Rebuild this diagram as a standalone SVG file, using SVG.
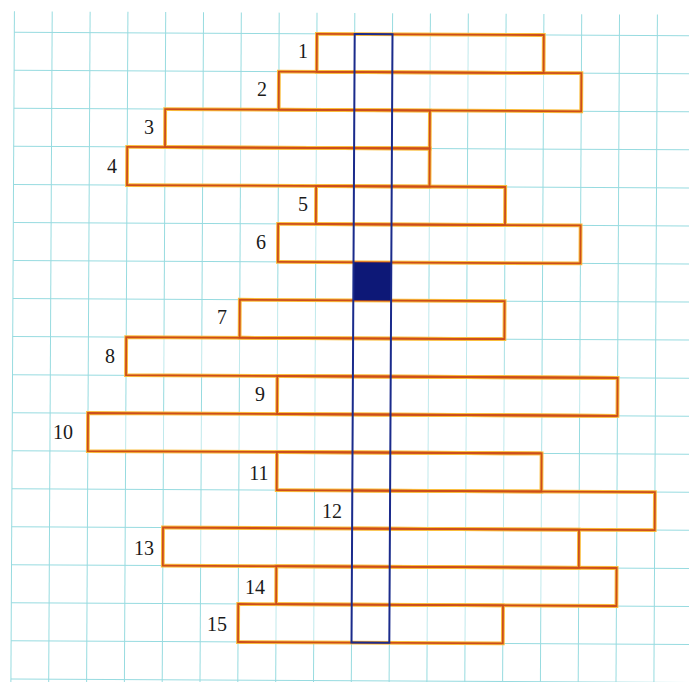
<svg xmlns="http://www.w3.org/2000/svg" width="689" height="682" viewBox="0 0 689 682">
<style>
.grid line{stroke:#97dbe0;stroke-width:1}
.band{fill:#ffffff;fill-opacity:0.4;stroke:none}
.halo{fill:none;stroke:#f9bd3c;stroke-width:3.8;stroke-linejoin:miter}
.edge{fill:none;stroke:#cd4d1b;stroke-width:1.8;stroke-linejoin:miter}
.col{fill:none;stroke:#1b2b8c;stroke-width:2}
.black{fill:#0d1877}
.lbl{font-family:"Liberation Serif","Times New Roman",serif;font-size:20px;fill:#1a1a1a;text-anchor:middle}
</style>
<rect width="689" height="682" fill="#ffffff"/>
<g transform="rotate(0.3 350 340)">
<g class="grid" id="grid">
<line x1="12.7" y1="13" x2="12.7" y2="690"/>
<line x1="50.5" y1="13" x2="50.5" y2="690"/>
<line x1="88.4" y1="13" x2="88.4" y2="690"/>
<line x1="126.2" y1="13" x2="126.2" y2="690"/>
<line x1="164.0" y1="13" x2="164.0" y2="690"/>
<line x1="201.8" y1="13" x2="201.8" y2="690"/>
<line x1="239.6" y1="13" x2="239.6" y2="690"/>
<line x1="277.5" y1="13" x2="277.5" y2="690"/>
<line x1="315.3" y1="13" x2="315.3" y2="690"/>
<line x1="353.1" y1="13" x2="353.1" y2="690"/>
<line x1="390.9" y1="13" x2="390.9" y2="690"/>
<line x1="428.7" y1="13" x2="428.7" y2="690"/>
<line x1="466.6" y1="13" x2="466.6" y2="690"/>
<line x1="504.4" y1="13" x2="504.4" y2="690"/>
<line x1="542.2" y1="13" x2="542.2" y2="690"/>
<line x1="580.0" y1="13" x2="580.0" y2="690"/>
<line x1="617.8" y1="13" x2="617.8" y2="690"/>
<line x1="655.7" y1="13" x2="655.7" y2="690"/>
<line x1="12.7" y1="34.0" x2="700" y2="34.0"/>
<line x1="12.7" y1="72.0" x2="700" y2="72.0"/>
<line x1="12.7" y1="110.1" x2="700" y2="110.1"/>
<line x1="12.7" y1="148.1" x2="700" y2="148.1"/>
<line x1="12.7" y1="186.2" x2="700" y2="186.2"/>
<line x1="12.7" y1="224.2" x2="700" y2="224.2"/>
<line x1="12.7" y1="262.2" x2="700" y2="262.2"/>
<line x1="12.7" y1="300.3" x2="700" y2="300.3"/>
<line x1="12.7" y1="338.3" x2="700" y2="338.3"/>
<line x1="12.7" y1="376.4" x2="700" y2="376.4"/>
<line x1="12.7" y1="414.4" x2="700" y2="414.4"/>
<line x1="12.7" y1="452.4" x2="700" y2="452.4"/>
<line x1="12.7" y1="490.5" x2="700" y2="490.5"/>
<line x1="12.7" y1="528.5" x2="700" y2="528.5"/>
<line x1="12.7" y1="566.6" x2="700" y2="566.6"/>
<line x1="12.7" y1="604.6" x2="700" y2="604.6"/>
<line x1="12.7" y1="642.6" x2="700" y2="642.6"/>
<line x1="12.7" y1="680.7" x2="700" y2="680.7"/>
</g>
<g id="bands">
<rect class="band" x="315.3" y="34.0" width="226.9" height="38.0"/>
<rect class="band" x="277.5" y="72.0" width="302.5" height="38.1"/>
<rect class="band" x="164.0" y="110.1" width="264.7" height="38.0"/>
<rect class="band" x="126.2" y="148.1" width="302.5" height="38.1"/>
<rect class="band" x="315.3" y="186.2" width="189.1" height="38.0"/>
<rect class="band" x="277.5" y="224.2" width="302.5" height="38.0"/>
<rect class="band" x="239.6" y="300.3" width="264.8" height="38.0"/>
<rect class="band" x="126.2" y="338.3" width="378.2" height="38.1"/>
<rect class="band" x="277.5" y="376.4" width="340.3" height="38.0"/>
<rect class="band" x="88.4" y="414.4" width="453.8" height="38.0"/>
<rect class="band" x="277.5" y="452.4" width="264.7" height="38.1"/>
<rect class="band" x="353.1" y="490.5" width="302.6" height="38.0"/>
<rect class="band" x="164.0" y="528.5" width="416.0" height="38.1"/>
<rect class="band" x="277.5" y="566.6" width="340.3" height="38.0"/>
<rect class="band" x="239.6" y="604.6" width="264.8" height="38.0"/>
</g>
<g id="halos">
<rect class="halo" x="315.3" y="34.0" width="226.9" height="38.0"/>
<rect class="halo" x="277.5" y="72.0" width="302.5" height="38.1"/>
<rect class="halo" x="164.0" y="110.1" width="264.7" height="38.0"/>
<rect class="halo" x="126.2" y="148.1" width="302.5" height="38.1"/>
<rect class="halo" x="315.3" y="186.2" width="189.1" height="38.0"/>
<rect class="halo" x="277.5" y="224.2" width="302.5" height="38.0"/>
<rect class="halo" x="239.6" y="300.3" width="264.8" height="38.0"/>
<path class="halo" d="M504.4,338.3 H126.2 V376.4 H617.8"/>
<rect class="halo" x="277.5" y="376.4" width="340.3" height="38.0"/>
<path class="halo" d="M617.8,414.4 H88.4 V452.4 H542.2"/>
<rect class="halo" x="277.5" y="452.4" width="264.7" height="38.1"/>
<path class="halo" d="M353.1,490.5 H655.7 V528.5 H353.1"/>
<rect class="halo" x="164.0" y="528.5" width="416.0" height="38.1"/>
<rect class="halo" x="277.5" y="566.6" width="340.3" height="38.0"/>
<rect class="halo" x="239.6" y="604.6" width="264.8" height="38.0"/>
</g>
<g id="row1"><rect class="edge" x="315.3" y="34.0" width="226.9" height="38.0"/></g>
<g id="row2"><rect class="edge" x="277.5" y="72.0" width="302.5" height="38.1"/></g>
<g id="row3"><rect class="edge" x="164.0" y="110.1" width="264.7" height="38.0"/></g>
<g id="row4"><rect class="edge" x="126.2" y="148.1" width="302.5" height="38.1"/></g>
<g id="row5"><rect class="edge" x="315.3" y="186.2" width="189.1" height="38.0"/></g>
<g id="row6"><rect class="edge" x="277.5" y="224.2" width="302.5" height="38.0"/></g>
<g id="row7"><rect class="edge" x="239.6" y="300.3" width="264.8" height="38.0"/></g>
<g id="row8"><path class="edge" d="M504.4,338.3 H126.2 V376.4 H617.8"/></g>
<g id="row9"><rect class="edge" x="277.5" y="376.4" width="340.3" height="38.0"/></g>
<g id="row10"><path class="edge" d="M617.8,414.4 H88.4 V452.4 H542.2"/></g>
<g id="row11"><rect class="edge" x="277.5" y="452.4" width="264.7" height="38.1"/></g>
<g id="row12"><path class="edge" d="M353.1,490.5 H655.7 V528.5 H353.1"/></g>
<g id="row13"><rect class="edge" x="164.0" y="528.5" width="416.0" height="38.1"/></g>
<g id="row14"><rect class="edge" x="277.5" y="566.6" width="340.3" height="38.0"/></g>
<g id="row15"><rect class="edge" x="239.6" y="604.6" width="264.8" height="38.0"/></g>
<g id="keyword">
<rect class="black" x="353.1" y="262.2" width="37.8" height="38.1"/>
<rect class="col" x="353.1" y="34.0" width="37.8" height="608.6"/>
</g>
</g>
<g id="labels">
<text class="lbl" x="303" y="58">1</text>
<text class="lbl" x="262" y="96">2</text>
<text class="lbl" x="149" y="134">3</text>
<text class="lbl" x="112" y="173">4</text>
<text class="lbl" x="303" y="211">5</text>
<text class="lbl" x="261" y="249">6</text>
<text class="lbl" x="222" y="324">7</text>
<text class="lbl" x="110" y="363">8</text>
<text class="lbl" x="260" y="401">9</text>
<text class="lbl" x="63" y="439">10</text>
<text class="lbl" x="259" y="480">11</text>
<text class="lbl" x="332" y="518">12</text>
<text class="lbl" x="144" y="555">13</text>
<text class="lbl" x="255" y="594">14</text>
<text class="lbl" x="217" y="631">15</text>
</g>
</svg>
